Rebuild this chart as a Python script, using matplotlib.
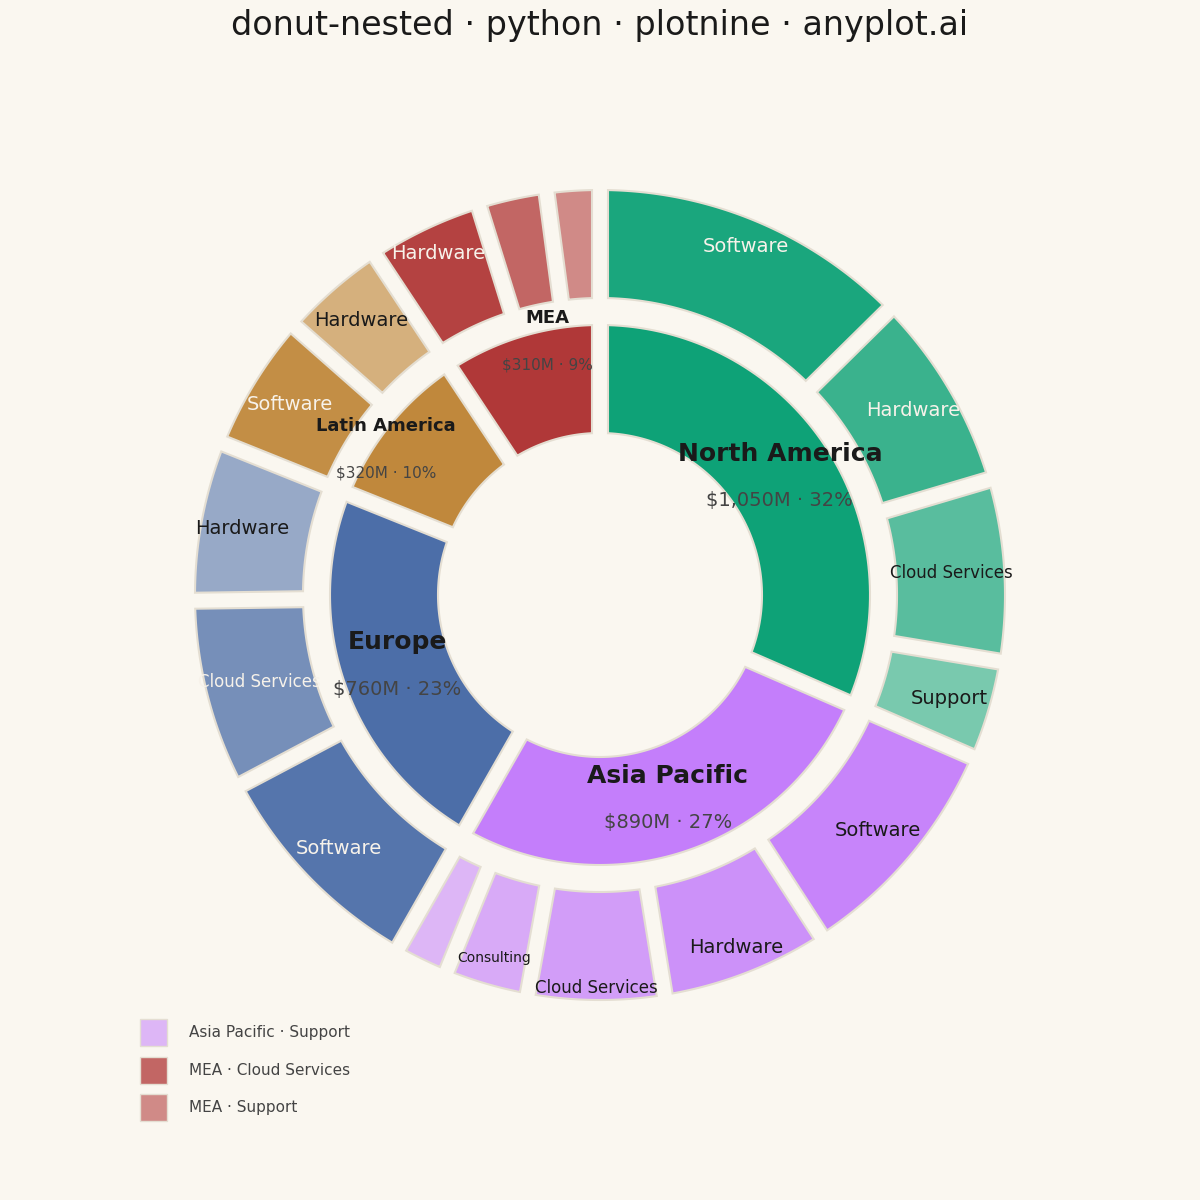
import numpy as np
import matplotlib.pyplot as plt
from matplotlib.patches import Polygon, Patch
from matplotlib.colors import to_rgb

# ---- data (revenue, $M) ----
regions = ["North America", "Asia Pacific", "Europe", "Latin America", "MEA"]
region_colors = ["#0EA277", "#C47EFB", "#4C6EA8", "#C0883C", "#B03838"]

na_products = ["Software", "Hardware", "Cloud Services", "Support"]
na_values = [420, 260, 240, 130]
ap_products = ["Software", "Hardware", "Cloud Services", "Consulting", "Support"]
ap_values = [310, 220, 180, 110, 70]
eu_products = ["Software", "Cloud Services", "Hardware"]
eu_values = [300, 250, 210]
la_products = ["Software", "Hardware"]
la_values = [180, 140]
mea_products = ["Hardware", "Cloud Services", "Support"]
mea_values = [150, 90, 70]

products = [na_products, ap_products, eu_products, la_products, mea_products]
values = [na_values, ap_values, eu_values, la_values, mea_values]

BG = "#FAF7F0"
EDGE = "#E4DED2"
DARK = "#1A1A1A"
LIGHT = "#F7F2EA"


def mix(color, f):
    c = np.array(to_rgb(color))
    b = np.array(to_rgb(BG))
    return tuple(c + (b - c) * f)


def ring_wedge(t0, t1, r0, r1, h=8, n=80):
    # angles in degrees, clockwise from 12 o'clock; constant-width gaps
    a1 = np.degrees(np.arcsin(h / r1))
    a0 = np.degrees(np.arcsin(h / r0))
    to = np.radians(np.linspace(t0 + a1, t1 - a1, n))
    ti = np.radians(np.linspace(t1 - a0, t0 + a0, n))
    xs = np.concatenate([r1 * np.sin(to), r0 * np.sin(ti)])
    ys = np.concatenate([r1 * np.cos(to), r0 * np.cos(ti)])
    return np.column_stack([xs, ys])


def text_color(rgb):
    lum = 255 * (0.299 * rgb[0] + 0.587 * rgb[1] + 0.114 * rgb[2])
    return LIGHT if lum < 152 else DARK


fig = plt.figure(figsize=(12, 12), dpi=100, facecolor=BG)
ax = fig.add_axes([0, 0, 1, 1])
ax.set_facecolor(BG)
ax.set_xlim(-600, 600)
ax.set_ylim(-605, 595)
ax.set_aspect("equal")
ax.axis("off")

totals = [sum(v) for v in values]
grand = sum(totals)
label_nudge = {"Latin America": -5, "MEA": 5}

legend_handles = []
start = 0.0
for reg, col, prods, vals, tot in zip(regions, region_colors, products, values, totals):
    t0 = start / grand * 360
    t1 = (start + tot) / grand * 360
    ax.add_patch(Polygon(ring_wedge(t0, t1, 162, 270), closed=True,
                         facecolor=col, edgecolor=EDGE, lw=1.5))

    # inner label
    share = tot / grand
    mid = (t0 + t1) / 2
    if share >= 0.15:
        r_lab, s_name, s_val = 215, 18, 14
    else:
        r_lab, s_name, s_val = 259, 13, 11
        mid += label_nudge.get(reg, 0)
    x = r_lab * np.sin(np.radians(mid))
    y = r_lab * np.cos(np.radians(mid))
    ax.text(x, y + 23.5, reg, ha="center", va="center", fontsize=s_name,
            fontweight="bold", color=DARK)
    ax.text(x, y - 23.5, f"${tot:,}M · {round(share * 100)}%", ha="center",
            va="center", fontsize=s_val, color="#444444")

    # outer ring
    n = len(vals)
    fracs = np.linspace(0.05, 0.5 - 0.14 / max(n - 1, 1), n)
    s = start
    for i, (p, v) in enumerate(zip(prods, vals)):
        a0 = s / grand * 360
        a1 = (s + v) / grand * 360
        shade = mix(col, fracs[i])
        ax.add_patch(Polygon(ring_wedge(a0, a1, 297, 405), closed=True,
                             facecolor=shade, edgecolor=EDGE, lw=1.5))
        if v < 100:
            legend_handles.append(Patch(facecolor=shade, edgecolor=EDGE,
                                        label=f"{reg} · {p}"))
        else:
            am = np.radians((a0 + a1) / 2)
            if len(p) <= 8:
                fs = 14
            elif a1 - a0 >= 15:
                fs = 12
            else:
                fs = 10
            c = abs(np.cos(am))
            r_txt = 364
            if c > 0.85:
                r_txt += 14
            if len(p) > 10:
                r_txt += -12 if c < 0.5 else 15
            ax.text(r_txt * np.sin(am), r_txt * np.cos(am), p, ha="center",
                    va="center", fontsize=fs, color=text_color(shade))
        s += v
    start += tot

fig.text(0.5, 1 - 25 / 1200, "donut-nested · python · plotnine · anyplot.ai",
         ha="center", va="center", fontsize=24, color=DARK)

leg = fig.legend(handles=legend_handles, loc="upper left",
                 bbox_to_anchor=(140 / 1200, 1 - 1019 / 1200), frameon=False,
                 fontsize=11, handlelength=1.77, handleheight=2.34,
                 labelspacing=0.69, handletextpad=1.44, borderpad=0,
                 borderaxespad=0)
for t in leg.get_texts():
    t.set_color("#444444")

plt.savefig("out.png", dpi=100, facecolor=BG)
plt.close()
